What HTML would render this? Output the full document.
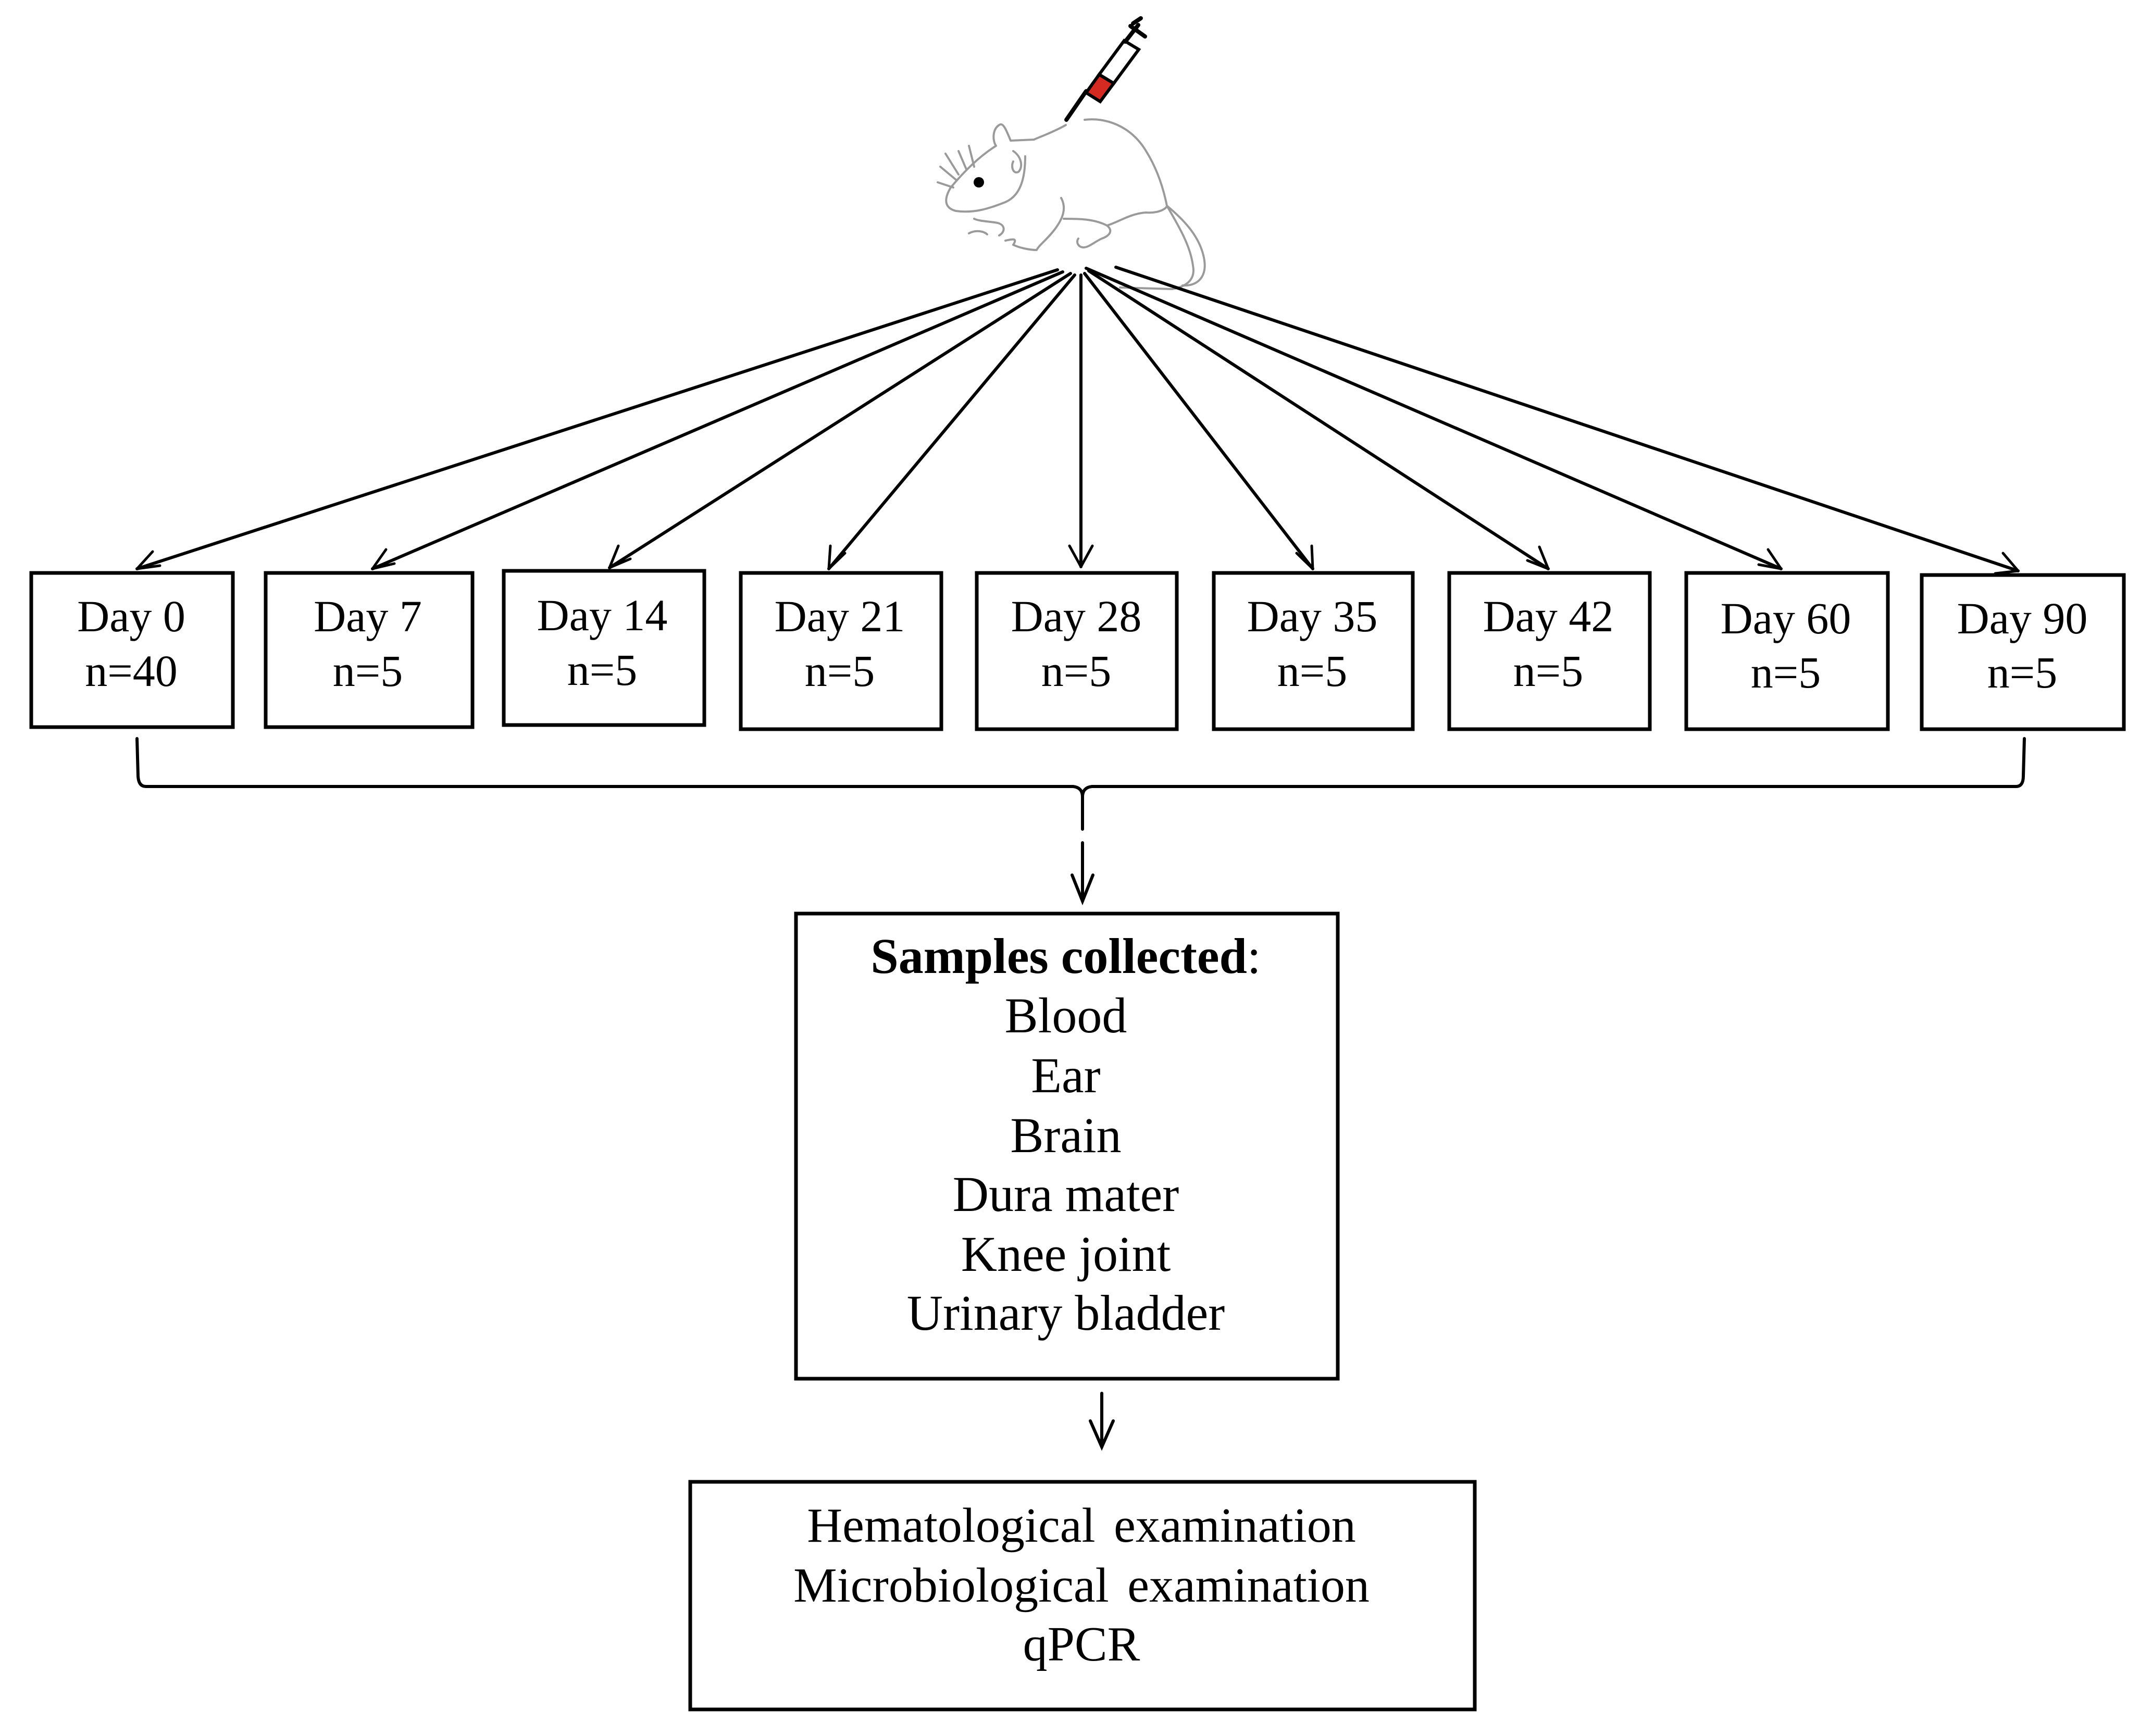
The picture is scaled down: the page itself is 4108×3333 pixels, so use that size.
<!DOCTYPE html>
<html><head><meta charset="utf-8"><style>
html,body{margin:0;padding:0;background:#fff;}
svg{display:block;}
text{font-family:"Liberation Serif",serif;fill:#000;}
</style></head><body>
<svg width="4108" height="3333" viewBox="0 0 4108 3333" xmlns="http://www.w3.org/2000/svg">
<!-- mouse -->
<g fill="none" stroke="#9a9a9a" stroke-width="4" stroke-linecap="round" stroke-linejoin="round">
<path d="M2046,240 C2020,255 1990,265 1985,268 L1940,270 C1930,245 1925,235 1918,240 C1905,248 1905,270 1912,280 C1880,300 1850,330 1825,360 C1810,385 1815,400 1835,405 C1870,410 1900,400 1930,388 C1960,375 1968,340 1968,300"/>
<path d="M1945,290 C1960,300 1965,320 1955,330 C1945,335 1940,320 1945,310"/>
<path d="M2082,230 C2120,225 2170,240 2200,290 C2225,330 2235,370 2240,395 C2270,420 2300,450 2310,490 C2320,530 2300,550 2270,548"/>
<path d="M2240,395 C2260,430 2285,470 2290,510 C2295,535 2280,550 2250,555 L2150,552"/>
<path d="M2037,380 C2048,400 2040,420 2025,440 C2010,460 1995,470 1990,480 C1975,480 1955,475 1945,470"/>
<path d="M2042,420 C2070,420 2100,420 2125,433 C2140,445 2125,455 2115,458 C2100,465 2090,475 2080,475 C2070,475 2065,465 2070,458"/>
<path d="M2125,433 C2150,425 2170,410 2200,408 C2225,410 2240,400 2240,395"/>
<path d="M1870,420 C1880,425 1900,425 1915,428 C1930,432 1930,445 1918,452 M1860,448 C1875,440 1890,445 1895,450 M1945,470 C1955,455 1940,460 1930,462"/>
<path d="M1805,320 L1835,345 M1800,350 L1830,360 M1815,295 L1840,335 M1840,290 L1855,325 M1860,280 L1870,320"/>
</g>
<circle cx="1879" cy="350" r="10" fill="#000"/>
<!-- syringe -->
<g stroke="#000" stroke-width="8" stroke-linecap="round">
<line x1="2047" y1="230" x2="2085" y2="175"/>
<polygon points="2085,178 2110,143 2138,160 2112,195" fill="#d42a22" stroke-width="6"/>
<polygon points="2110,143 2158,78 2186,95 2138,160" fill="#fff" stroke-width="6"/>
<line x1="2160" y1="80" x2="2185" y2="48"/>
<line x1="2170" y1="50" x2="2198" y2="70"/>
<line x1="2175" y1="45" x2="2190" y2="35"/>
</g>
<!-- fan arrows -->
<g stroke="#000" stroke-width="6" fill="none" stroke-linecap="round">
<line x1="2030" y1="518" x2="263" y2="1092"/>
<line x1="2040" y1="522" x2="715" y2="1092"/>
<line x1="2055" y1="525" x2="1170" y2="1090"/>
<line x1="2063" y1="528" x2="1591" y2="1092"/>
<line x1="2075" y1="528" x2="2075" y2="1088"/>
<line x1="2082" y1="525" x2="2520" y2="1092"/>
<line x1="2090" y1="520" x2="2972" y2="1092"/>
<line x1="2085" y1="515" x2="3419" y2="1092"/>
<line x1="2142" y1="513" x2="3874" y2="1096"/>
</g>
<g stroke="#000" stroke-width="5" fill="none" stroke-linecap="round" stroke-linejoin="round">
<path d="M263,1092 m44,-6 l-44,6 l30,-33"/>
<path d="M715,1092 m42,-10 l-42,10 l26,-37"/>
<path d="M1170,1090 m40,-17 l-40,17 l17,-42"/>
<path d="M1591,1092 m31,-30 l-31,30 l3,-44"/>
<path d="M2053,1048 l22,40 l22,-40"/>
<path d="M2520,1092 m-2,-44 l2,44 l-31,-30"/>
<path d="M2972,1092 m-17,-42 l17,42 l-40,-16"/>
<path d="M3419,1092 m-25,-37 l25,37 l-43,-8"/>
<path d="M3874,1096 m-29,-34 l29,34 l-44,5"/>
</g>
<!-- day boxes -->
<g fill="#fff" stroke="#000" stroke-width="7">
<rect x="60" y="1100" width="387" height="296"/>
<rect x="510" y="1100" width="397" height="296"/>
<rect x="967" y="1096" width="385" height="296"/>
<rect x="1422" y="1100" width="385" height="300"/>
<rect x="1875" y="1100" width="384" height="300"/>
<rect x="2330" y="1100" width="382" height="300"/>
<rect x="2782" y="1100" width="385" height="300"/>
<rect x="3237" y="1100" width="387" height="300"/>
<rect x="3689" y="1104" width="388" height="296"/>
</g>
<g font-size="86" text-anchor="middle">
<text x="252" y="1212">Day 0</text><text x="252" y="1317">n=40</text>
<text x="706" y="1212">Day 7</text><text x="706" y="1317">n=5</text>
<text x="1156" y="1210">Day 14</text><text x="1156" y="1315">n=5</text>
<text x="1612" y="1212">Day 21</text><text x="1612" y="1317">n=5</text>
<text x="2066" y="1212">Day 28</text><text x="2066" y="1317">n=5</text>
<text x="2519" y="1212">Day 35</text><text x="2519" y="1317">n=5</text>
<text x="2972" y="1212">Day 42</text><text x="2972" y="1317">n=5</text>
<text x="3428" y="1216">Day 60</text><text x="3428" y="1320">n=5</text>
<text x="3882" y="1216">Day 90</text><text x="3882" y="1320">n=5</text>
</g>
<!-- bracket -->
<g stroke="#000" stroke-width="6" fill="none" stroke-linecap="round">
<path d="M263,1418 L265,1490 Q266,1510 280,1510 L2060,1510 Q2078,1512 2078,1530 L2078,1592"/>
<path d="M2078,1530 Q2078,1512 2096,1510 L3870,1510 Q3884,1510 3884,1490 L3886,1418"/>
<line x1="2078" y1="1618" x2="2078" y2="1730"/>
<path d="M2058,1680 L2078,1730 L2098,1680"/>
</g>
<!-- samples box -->
<rect x="1528" y="1754" width="1040" height="893" fill="#fff" stroke="#000" stroke-width="7"/>
<g font-size="96" text-anchor="middle">
<text x="2046" y="1868"><tspan font-weight="bold">Samples collected</tspan>:</text>
<text x="2046" y="1982">Blood</text>
<text x="2046" y="2097">Ear</text>
<text x="2046" y="2212">Brain</text>
<text x="2046" y="2325">Dura mater</text>
<text x="2046" y="2440">Knee joint</text>
<text x="2046" y="2553">Urinary bladder</text>
</g>
<g stroke="#000" stroke-width="6" fill="none" stroke-linecap="round">
<line x1="2115" y1="2675" x2="2115" y2="2778"/>
<path d="M2093,2728 L2115,2778 L2137,2728"/>
</g>
<rect x="1325" y="2845" width="1506" height="437" fill="#fff" stroke="#000" stroke-width="7"/>
<g font-size="94" text-anchor="middle" word-spacing="12">
<text x="2076" y="2960">Hematological examination</text>
<text x="2076" y="3075">Microbiological examination</text>
<text x="2076" y="3188">qPCR</text>
</g>
</svg>
</body></html>
